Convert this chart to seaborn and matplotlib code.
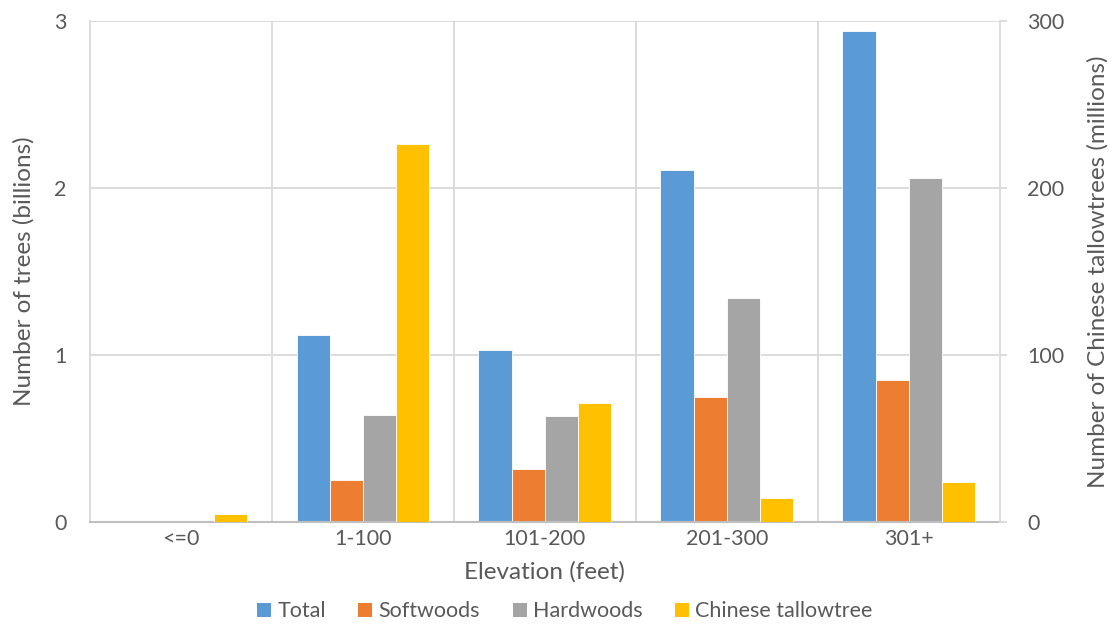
import matplotlib
matplotlib.use("Agg")
import matplotlib.pyplot as plt
from matplotlib.patches import Patch
import numpy as np
import pandas as pd
import seaborn as sns

# Tree counts by elevation class
elevations = ["<=0", "1-100", "101-200", "201-300", "301+"]
total_billions = [0.008, 1.121, 1.028, 2.110, 2.942]
softwoods_billions = [0.001, 0.249, 0.319, 0.750, 0.850]
hardwoods_billions = [0.004, 0.643, 0.636, 1.341, 2.062]
tallow_millions = [5.0, 226.5, 71.4, 14.6, 24.0]

series_names = ["Total", "Softwoods", "Hardwoods", "Chinese tallowtree"]
colors = ["#5B9BD5", "#ED7D31", "#A5A5A5", "#FFC000"]
text_color = "#595959"
grid_color = "#D9D9D9"

sns.set_theme(style="white")
plt.rcParams["font.family"] = ["Lato", "DejaVu Sans"]

nan5 = [np.nan] * 5
left = pd.DataFrame({
    "elevation": elevations * 4,
    "series": np.repeat(series_names, 5),
    "value": total_billions + softwoods_billions + hardwoods_billions + nan5,
})
right = pd.DataFrame({
    "elevation": elevations * 4,
    "series": np.repeat(series_names, 5),
    "value": nan5 * 3 + tallow_millions,
})

fig = plt.figure(figsize=(11.12, 6.25), dpi=100)
ax = fig.add_axes([0.081, 0.1648, 0.818, 0.8016])
ax2 = ax.twinx()

common = dict(x="elevation", y="value", hue="series", hue_order=series_names,
              order=elevations, palette=colors, width=0.73, gap=0,
              errorbar=None, legend=False, saturation=1,
              edgecolor="white", linewidth=0.6)
sns.barplot(data=left, ax=ax, **common)
sns.barplot(data=right, ax=ax2, **common)

ax.set_xlim(-0.5, 4.5)
ax.set_ylim(0, 3)
ax2.set_ylim(0, 300)
ax.set_yticks([0, 1, 2, 3])
ax2.set_yticks([0, 100, 200, 300])

# Gridlines: horizontal at major y ticks, vertical between categories
ax.set_axisbelow(True)
ax.yaxis.grid(True, color=grid_color, linewidth=1.3)
for xb in np.arange(0.5, 4.5, 1.0):
    ax.axvline(xb, color=grid_color, linewidth=1.3, zorder=0)

for spine in ["top"]:
    ax.spines[spine].set_visible(False)
    ax2.spines[spine].set_visible(False)
ax.spines["left"].set_color(grid_color)
ax.spines["left"].set_linewidth(1.3)
ax2.spines["left"].set_visible(False)
ax.spines["right"].set_visible(False)
ax2.spines["right"].set_color(grid_color)
ax2.spines["right"].set_linewidth(1.3)
ax.spines["bottom"].set_color("#BFBFBF")
ax.spines["bottom"].set_linewidth(1.5)
ax2.spines["bottom"].set_visible(False)

tick_size = 15.5
label_size = 17.5
ax.tick_params(axis="y", length=0, pad=17, labelsize=tick_size, labelcolor=text_color)
ax.tick_params(axis="x", length=0, pad=5, labelsize=tick_size, labelcolor=text_color)
ax2.tick_params(axis="y", length=5, width=1.3, color=grid_color, pad=15,
                labelsize=tick_size, labelcolor=text_color, direction="out")

ax.set_xlabel("Elevation (feet)", fontsize=label_size, color=text_color, labelpad=9)
ax.set_ylabel("Number of trees (billions)", fontsize=label_size, color=text_color,
              labelpad=14)
ax2.set_ylabel("Number of Chinese tallowtrees (millions)", fontsize=label_size,
               color=text_color, labelpad=16)

handles = [Patch(facecolor=c, edgecolor="none") for c in colors]
fig.legend(handles, series_names, loc="center", bbox_to_anchor=(0.508, 0.022),
           ncol=4, frameon=False, fontsize=15.5, labelcolor=text_color,
           handlelength=0.65, handleheight=0.65, handletextpad=0.3,
           columnspacing=1.5)

fig.savefig("out.png", dpi=100)
